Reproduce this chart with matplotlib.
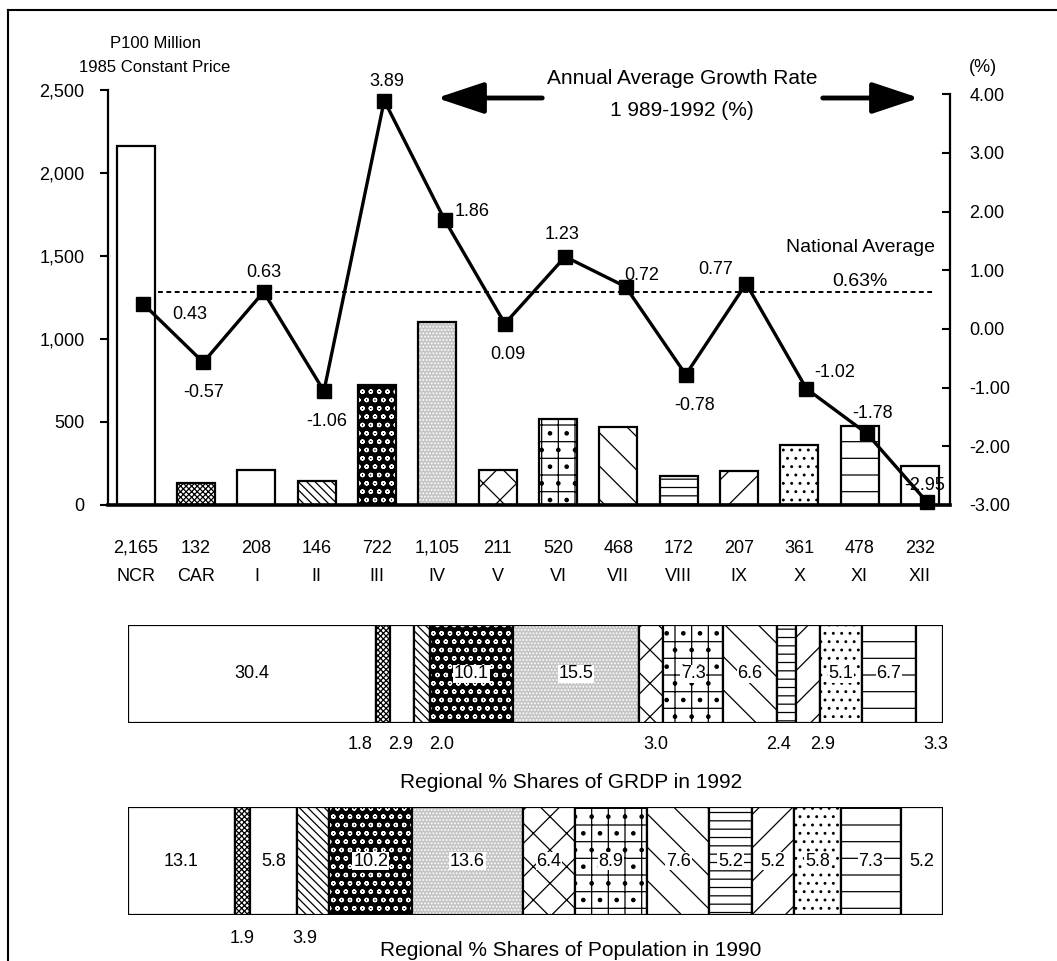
import matplotlib.pyplot as plt
from matplotlib.lines import Line2D
from matplotlib.patches import FancyArrowPatch

# data
regions = ["NCR", "CAR", "I", "II", "III", "IV", "V", "VI", "VII", "VIII", "IX", "X", "XI", "XII"]
grdp = [2165, 132, 208, 146, 722, 1105, 211, 520, 468, 172, 207, 361, 478, 232]
growth = [0.43, -0.57, 0.63, -1.06, 3.89, 1.86, 0.09, 1.23, 0.72, -0.78, 0.77, -1.02, -1.78, -2.95]
national_avg = 0.63
grdp_share = [30.4, 1.8, 2.9, 2.0, 10.1, 15.5, 3.0, 7.3, 6.6, 2.4, 2.9, 5.1, 6.7, 3.3]
pop_share = [13.1, 1.9, 5.8, 3.9, 10.2, 13.6, 6.4, 8.9, 7.6, 5.2, 5.2, 5.8, 7.3, 5.2]

# fill style per region: (facecolor, hatch colour, hatch)
styles = [
    ("white", "black", ""),
    ("white", "black", "xxxxxx"),
    ("white", "black", ""),
    ("white", "black", "\\\\\\\\"),
    ("black", "white", "oo"),
    ("#c4c4c4", "white", "....."),
    ("white", "black", "x"),
    ("white", "black", "+."),
    ("white", "black", "\\"),
    ("white", "black", "--"),
    ("white", "black", "/"),
    ("white", "black", ".."),
    ("white", "black", "-"),
    ("white", "black", ""),
]

plt.rcParams["font.family"] = ["Liberation Sans Narrow", "Liberation Sans", "DejaVu Sans"]
plt.rcParams["hatch.linewidth"] = 0.9

W, H = 1057, 961
fig = plt.figure(figsize=(W / 100, H / 100), dpi=100)


def box(x0, y0, x1, y1):
    # pixel box (top-left origin) -> figure fraction rect
    return [x0 / W, 1 - y1 / H, (x1 - x0) / W, (y1 - y0) / H]


# frame lines of the scanned page
fig.add_artist(Line2D([8 / W, 8 / W], [0, 1 - 10 / H], color="black", lw=1.5))
fig.add_artist(Line2D([8 / W, 1], [1 - 10 / H, 1 - 10 / H], color="black", lw=1.5))

# main chart
ax = fig.add_axes(box(108, 90, 950, 505))
x = list(range(len(regions)))
for i, v in enumerate(grdp):
    fc, hc, ht = styles[i]
    ax.bar(i, v, width=0.63, color=fc, edgecolor=hc, hatch=ht, linewidth=0, zorder=2)
    ax.bar(i, v, width=0.63, fill=False, edgecolor="black", linewidth=1.6, zorder=3)
ax.set_xlim(-0.46, 13.5)
ax.set_ylim(0, 2500)
ax.set_yticks([0, 500, 1000, 1500, 2000, 2500])
ax.set_yticklabels(["0", "500", "1,000", "1,500", "2,000", "2,500"])
ax.set_xticks(x)
ax.set_xticklabels([f"{v:,}\n{r}" for v, r in zip(grdp, regions)], linespacing=1.9)
ax.tick_params(axis="x", length=0, pad=25, labelsize=13)
ax.tick_params(axis="y", length=6, width=1.5, direction="out", pad=11, labelsize=13)
for s in ["top", "right"]:
    ax.spines[s].set_visible(False)
ax.spines["left"].set_linewidth(1.6)
ax.spines["bottom"].set_linewidth(2.6)

ax2 = ax.twinx()
ax2.set_ylim(-2.95, 4.07)
ax2.set_yticks([4, 3, 2, 1, 0, -1, -2, -3])
ax2.set_yticklabels([f"{t:.2f}" for t in [4, 3, 2, 1, 0, -1, -2, -3]])
ax2.tick_params(axis="y", length=6, width=1.5, direction="in", pad=14, labelsize=13)
for s in ["top", "left", "bottom"]:
    ax2.spines[s].set_visible(False)
ax2.spines["right"].set_linewidth(1.6)
ax2.spines["right"].set_bounds(-3, 4)

gx = [i + 0.12 for i in x]
ax2.plot(gx, growth, color="black", lw=2.4, marker="s", markersize=10, zorder=5, clip_on=False)
ax2.plot([0.37, 13.25], [national_avg, national_avg], color="black", lw=1.4,
         linestyle=(0, (2.5, 1.8)), zorder=4)

# value labels (dx, dy offsets in points)
offs = [(34, -8), (0, -22), (0, 14), (2, -22), (2, 14), (20, 6), (2, -22), (-2, 16),
        (12, 8), (6, -22), (-22, 10), (20, 12), (4, 14), (-2, 12)]
for xi, g, (dx, dy) in zip(gx, growth, offs):
    ax2.annotate(f"{g:.2f}", (xi, g), xytext=(dx, dy), textcoords="offset points",
                 ha="center", va="center", fontsize=13, zorder=6)

fig.text(155 / W, 1 - 43 / H, "P100 Million", ha="center", va="center", fontsize=12)
fig.text(155 / W, 1 - 68 / H, "1985 Constant Price", ha="center", va="center", fontsize=12)
fig.text(983 / W, 1 - 68 / H, "(%)", ha="center", va="center", fontsize=13)
fig.text(682 / W, 1 - 78 / H, "Annual Average Growth Rate", ha="center", va="center", fontsize=15)
fig.text(682 / W, 1 - 110 / H, "1 989-1992 (%)", ha="center", va="center", fontsize=15)
fig.text(860 / W, 1 - 248 / H, "National Average", ha="center", va="center", fontsize=14)
fig.text(860 / W, 1 - 282 / H, "0.63%", ha="center", va="center", fontsize=14)

for xa, xb in [(545, 434), (820, 922)]:
    fig.add_artist(FancyArrowPatch(
        (xa / W, 1 - 98 / H), (xb / W, 1 - 98 / H), transform=fig.transFigure,
        arrowstyle="-|>,head_length=2.4,head_width=0.8", color="black", lw=3.5,
        mutation_scale=12))


def share_bar(rect, shares, inside, below, nudges, title, title_y):
    b = fig.add_axes(rect)
    left = 0
    for i, s in enumerate(shares):
        fc, hc, ht = styles[i]
        b.barh(0, s, left=left, height=1, color=fc, edgecolor=hc, hatch=ht, linewidth=0)
        b.barh(0, s, left=left, height=1, fill=False, edgecolor="black", linewidth=1.6)
        c = left + s / 2
        if i in inside:
            b.text(c, 0, f"{s:.1f}", ha="center", va="center", fontsize=13,
                   bbox=dict(facecolor="white", edgecolor="none", pad=0.5))
        if i in below:
            b.text(c + nudges.get(i, 0), -0.72, f"{s:.1f}", ha="center", va="center",
                   fontsize=13)
        left += s
    b.set_xlim(0, left)
    b.set_ylim(-0.5, 0.5)
    b.axis("off")
    fig.text(571 / W, 1 - title_y / H, title, ha="center", va="center", fontsize=15)


share_bar(box(128, 625, 943, 723), grdp_share,
          inside=[0, 4, 5, 7, 8, 11, 12], below=[1, 2, 3, 6, 9, 10, 13],
          nudges={1: -2.8, 2: -0.2, 3: 2.4, 6: 0.6, 9: -1.0, 10: 1.8, 13: 0.8},
          title="Regional % Shares of GRDP in 1992", title_y=782)
share_bar(box(128, 807, 943, 915), pop_share,
          inside=[0, 2, 4, 5, 6, 7, 8, 9, 10, 11, 12, 13], below=[1, 3],
          nudges={3: -1.0},
          title="Regional % Shares of Population in 1990", title_y=950)

fig.savefig("out.png", dpi=100)
